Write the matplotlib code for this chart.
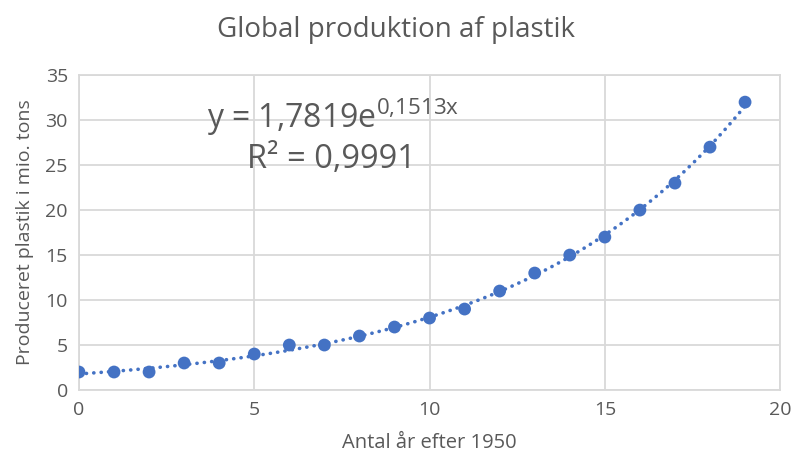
import numpy as np
import matplotlib.pyplot as plt

plt.rcParams['font.family'] = ['Open Sans', 'DejaVu Sans']

# Data
years = list(range(20))
production = [2, 2, 2, 3, 3, 4, 5, 5, 6, 7, 8, 9, 11, 13, 15, 17, 20, 23, 27, 32]

# Exponential trendline coefficients (as shown on the chart)
trend_a = 1.7819
trend_b = 0.1513

blue = '#4472C4'
grey = '#595959'
gridc = '#D9D9D9'

fig = plt.figure(figsize=(7.92, 4.61), dpi=100)
ax = fig.add_axes([0.0997, 0.154, 0.8853, 0.683])

xs = np.linspace(0, 19, 200)
ax.plot(xs, trend_a * np.exp(trend_b * xs), color=blue, lw=2.6,
        linestyle=(0, (0.05, 2.0)), dash_capstyle='round', zorder=2)
ax.scatter(years, production, s=85, color=blue, zorder=3, edgecolors='none')

ax.set_xlim(0, 20)
ax.set_ylim(0, 35)
ax.set_xticks(range(0, 21, 5))
ax.set_yticks(range(0, 36, 5))
ax.grid(True, color=gridc, lw=1.3)
ax.set_axisbelow(True)
for s in ax.spines.values():
    s.set_color(gridc)
    s.set_linewidth(1.3)
ax.tick_params(length=0, colors=grey, labelsize=14, pad=8)

ax.set_xlabel('Antal år efter 1950', color=grey, fontsize=14.5, labelpad=10)
ax.set_ylabel('Produceret plastik i mio. tons', color=grey, fontsize=14, labelpad=8)
fig.suptitle('Global produktion af plastik', color=grey, fontsize=20, y=0.965)

ax.text(7.25, 30.3, r'y = 1,7819e$\mathregular{^{0{,}1513x}}$', color=grey, fontsize=23,
        ha='center', va='center')
ax.text(7.2, 25.6, 'R² = 0,9991', color=grey, fontsize=23.5,
        ha='center', va='center')

fig.savefig('out.png', dpi=100)
